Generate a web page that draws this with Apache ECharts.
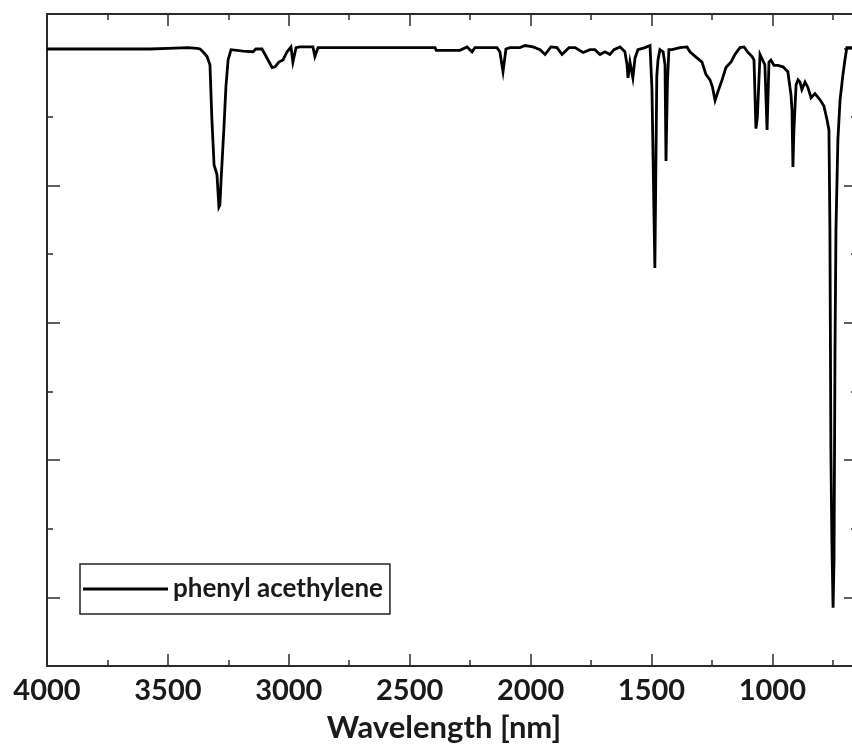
<!DOCTYPE html>
<html><head><meta charset="utf-8">
<script src="https://cdn.jsdelivr.net/npm/echarts@6/dist/echarts.min.js"></script>
<style>html,body{margin:0;padding:0;background:#fff;overflow:hidden}#c{width:860px;height:746px}</style>
</head><body><div id="c"></div>
<script>
const wavenumbers = [4000,3781,3574,3500,3417,3380,3367,3355,3338,3326,3318,3309,3297,3289,3285,3280,3268,3260,3251,3239,3189,3148,3136,3111,3098,3069,3057,3041,3024,3007,2991,2983,2970,2954,2900,2892,2879,2395,2390,2292,2263,2242,2230,2139,2127,2114,2102,2085,2044,2023,1990,1961,1940,1916,1891,1870,1841,1816,1783,1754,1734,1713,1692,1672,1655,1630,1610,1601,1597,1589,1577,1568,1556,1527,1506,1498,1486,1478,1473,1465,1452,1444,1440,1434,1428,1415,1382,1353,1341,1312,1291,1275,1258,1248,1237,1225,1208,1192,1171,1155,1134,1117,1101,1084,1076,1068,1062,1051,1043,1031,1022,1014,1006,993,977,956,936,923,919,915,911,902,894,886,878,865,853,840,824,803,787,774,766,762,758,754,749,745,741,737,729,720,708,700,692,671,650];
const transmittance = [0.899,0.899,0.899,0.900,0.901,0.900,0.899,0.895,0.888,0.876,0.796,0.730,0.716,0.669,0.672,0.708,0.786,0.844,0.883,0.898,0.896,0.895,0.899,0.899,0.891,0.872,0.873,0.880,0.883,0.895,0.902,0.880,0.901,0.902,0.902,0.888,0.901,0.901,0.897,0.897,0.902,0.895,0.901,0.901,0.895,0.866,0.899,0.901,0.901,0.904,0.902,0.898,0.891,0.902,0.901,0.891,0.901,0.901,0.894,0.898,0.898,0.891,0.895,0.891,0.898,0.902,0.895,0.876,0.857,0.880,0.857,0.886,0.898,0.901,0.904,0.840,0.580,0.860,0.883,0.898,0.895,0.876,0.736,0.850,0.898,0.898,0.901,0.902,0.895,0.886,0.880,0.862,0.854,0.844,0.824,0.837,0.854,0.872,0.880,0.891,0.901,0.902,0.894,0.888,0.883,0.783,0.800,0.891,0.891,0.876,0.781,0.880,0.883,0.875,0.875,0.873,0.866,0.832,0.811,0.727,0.780,0.847,0.854,0.851,0.840,0.851,0.843,0.828,0.834,0.825,0.816,0.796,0.781,0.636,0.315,0.184,0.085,0.155,0.461,0.636,0.767,0.825,0.862,0.883,0.901,0.901,0.901];
const xMajorTicks = [1000,1500,2000,2500,3000,3500,4000];
const xMinorTicks = [750,1250,1750,2250,2750,3250,3750];
const yMajorTicks = [0.1,0.3,0.5,0.7,0.9];
const yMinorTicks = [0.2,0.4,0.6,0.8];
const seriesName = 'phenyl acethylene';
const xTitle = 'Wavelength [nm]';

const points = wavenumbers.map((w, i) => [w, transmittance[i]]);
const AX = '#2b2b2b';
const FONT = 'Lato';

function xAx(pos, major, showLine, showLabel) {
  const a = {
    type: 'value', position: pos, inverse: true, min: 650, max: 4000,
    axisLine: {show: showLine, onZero: false, lineStyle: {color: AX, width: 2}},
    axisTick: {show: true, inside: true, length: major ? 12 : 6, lineStyle: {color: AX, width: 1.5},
      customValues: major ? xMajorTicks : xMinorTicks},
    axisLabel: {show: showLabel, customValues: xMajorTicks, margin: 10,
      formatter: v => String(v),
      fontFamily: FONT, fontWeight: 'bold', fontSize: 29, color: '#1a1a1a'},
    splitLine: {show: false}
  };
  if (showLabel) {
    a.name = xTitle; a.nameLocation = 'middle'; a.nameGap = 46;
    a.nameTextStyle = {fontFamily: FONT, fontWeight: 'bold', fontSize: 31, color: '#1a1a1a', padding: [0, 16, 0, 0]};
  }
  return a;
}
function yAx(pos, major, showLine) {
  return {
    type: 'value', position: pos, min: 0, max: 0.95,
    axisLine: {show: showLine, onZero: false, lineStyle: {color: AX, width: 2}},
    axisTick: {show: true, inside: true, length: major ? 13 : 6, lineStyle: {color: AX, width: 1.5},
      customValues: major ? yMajorTicks : yMinorTicks},
    axisLabel: {show: false},
    splitLine: {show: false}
  };
}

const chart = echarts.init(document.getElementById('c'), null, {renderer: 'canvas'});
chart.setOption({
  animation: false,
  backgroundColor: '#fff',
  grid: {left: 47, top: 14, right: 3, bottom: 80, containLabel: false, outerBoundsMode: 'none'},
  xAxis: [xAx('bottom', true, true, true), xAx('bottom', false, false, false),
          xAx('top', true, true, false), xAx('top', false, false, false)],
  yAxis: [yAx('left', true, true), yAx('left', false, false),
          yAx('right', true, true), yAx('right', false, false)],
  legend: {
    left: 80, top: 564, orient: 'horizontal',
    borderColor: '#222', borderWidth: 1.5, padding: [12, 7, 12, 3],
    itemWidth: 85, itemHeight: 3, itemGap: 0,
    textStyle: {fontFamily: FONT, fontWeight: 'bold', fontSize: 26, color: '#1a1a1a'},
    data: [{name: seriesName, icon: 'rect'}]
  },
  series: [{
    name: seriesName, type: 'line', data: points, showSymbol: false,
    xAxisIndex: 0, yAxisIndex: 0,
    color: '#000',
    lineStyle: {color: '#000', width: 2.8, join: 'miter'},
    emphasis: {disabled: true}
  }]
});
</script></body></html>
